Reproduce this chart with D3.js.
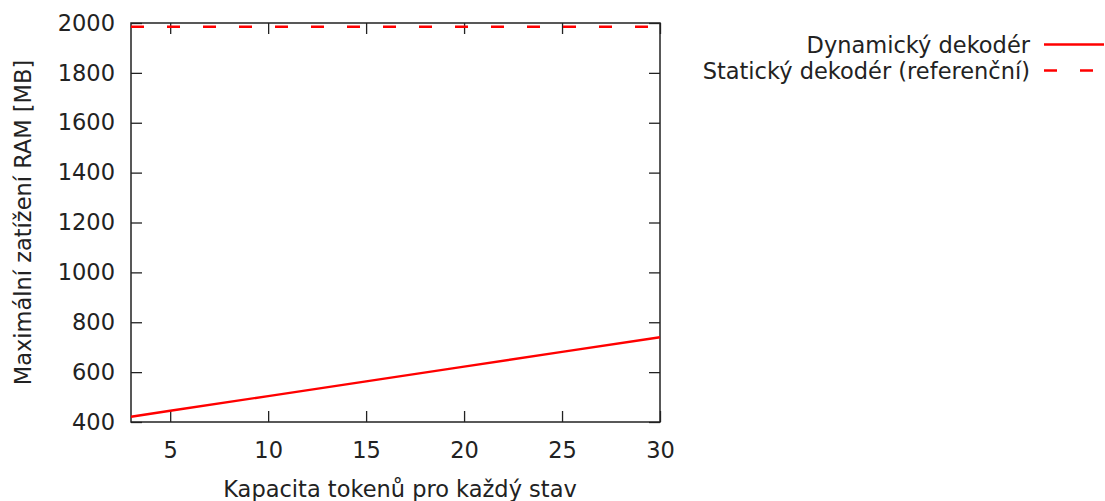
<!DOCTYPE html>
<html>
<head>
<meta charset="utf-8">
<script src="https://cdn.jsdelivr.net/npm/d3@7"></script>
<style>
  html, body { margin: 0; padding: 0; background: #fff; }
  text { font-family: "DejaVu Sans", sans-serif; fill: #222; }
</style>
</head>
<body>
<svg id="chart" width="1105" height="501"></svg>
<script>
// Token capacity per state (x) and peak RAM usage in MB (y)
const capacity = [3, 5, 10, 15, 20, 25, 30];
const dynamicRam = [421, 445, 504, 563, 622, 681, 740];
const staticRam = 1985;
const xTicks = [5, 10, 15, 20, 25, 30];
const yTicks = [400, 600, 800, 1000, 1200, 1400, 1600, 1800, 2000];
const seriesNames = ["Dynamický dekodér", "Statický dekodér (referenční)"];

const svg = d3.select("#chart");
const plotLeft = 131, plotRight = 660, plotTop = 23, plotBottom = 422;

const x = d3.scaleLinear().domain([3, 30]).range([plotLeft, plotRight]);
const y = d3.scaleLinear().domain([400, 2000]).range([plotBottom, plotTop]);

const fontSize = 22.5;
const tickLen = 11;

// Ticks on all four sides, pointing inward
const axisStroke = "#222";
const gAxes = svg.append("g");

gAxes.append("g")
  .attr("transform", `translate(0,${plotBottom})`)
  .call(d3.axisBottom(x).tickValues(xTicks).tickSizeInner(-tickLen).tickSizeOuter(0).tickPadding(20).tickFormat(d3.format("d")))
  .call(g => g.selectAll("text").attr("font-size", fontSize).attr("fill", "#222"));

gAxes.append("g")
  .attr("transform", `translate(${plotLeft},0)`)
  .call(d3.axisLeft(y).tickValues(yTicks).tickSizeInner(-tickLen).tickSizeOuter(0).tickPadding(16).tickFormat(d3.format("d")))
  .call(g => g.selectAll("text").attr("font-size", fontSize).attr("fill", "#222"));

gAxes.append("g")
  .attr("transform", `translate(0,${plotTop})`)
  .call(d3.axisTop(x).tickValues(xTicks).tickSizeInner(-tickLen).tickSizeOuter(0).tickFormat(""));

gAxes.append("g")
  .attr("transform", `translate(${plotRight},0)`)
  .call(d3.axisRight(y).tickValues(yTicks).tickSizeInner(-tickLen).tickSizeOuter(0).tickFormat(""));

gAxes.selectAll(".domain").remove();
gAxes.selectAll(".tick line").attr("stroke", axisStroke).attr("stroke-width", 1.3);

// Plot frame
svg.append("rect")
  .attr("x", plotLeft).attr("y", plotTop)
  .attr("width", plotRight - plotLeft).attr("height", plotBottom - plotTop)
  .attr("fill", "none").attr("stroke", axisStroke).attr("stroke-width", 1.5);

// Series
const line = d3.line().x((d, i) => x(capacity[i])).y(d => y(d));

svg.append("path")
  .datum(dynamicRam)
  .attr("d", line)
  .attr("fill", "none")
  .attr("stroke", "#ff0000")
  .attr("stroke-width", 2.4);

svg.append("line")
  .attr("x1", x(3)).attr("x2", x(30))
  .attr("y1", y(staticRam)).attr("y2", y(staticRam))
  .attr("stroke", "#ff0000")
  .attr("stroke-width", 2.4)
  .attr("stroke-dasharray", "13,23");

// Axis titles
svg.append("text")
  .attr("x", 400)
  .attr("y", 497)
  .attr("text-anchor", "middle")
  .attr("font-size", fontSize)
  .text("Kapacita tokenů pro každý stav");

svg.append("text")
  .attr("transform", `translate(31,${(plotTop + plotBottom) / 2}) rotate(-90)`)
  .attr("text-anchor", "middle")
  .attr("font-size", fontSize)
  .text("Maximální zatížení RAM [MB]");

// Legend
const legend = svg.append("g");
const legendRows = [44.5, 70.5];
seriesNames.forEach((name, i) => {
  legend.append("text")
    .attr("x", 1030)
    .attr("y", legendRows[i] + 8.5)
    .attr("text-anchor", "end")
    .attr("font-size", fontSize)
    .text(name);
  legend.append("line")
    .attr("x1", 1044).attr("x2", 1104)
    .attr("y1", legendRows[i]).attr("y2", legendRows[i])
    .attr("stroke", "#ff0000")
    .attr("stroke-width", 2.4)
    .attr("stroke-dasharray", i === 1 ? "13,23" : null);
});
</script>
</body>
</html>
